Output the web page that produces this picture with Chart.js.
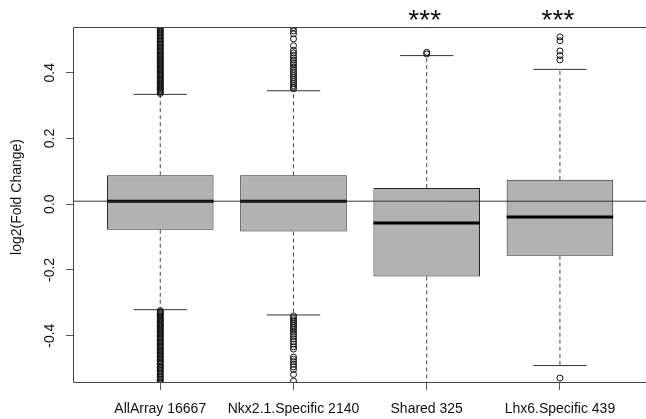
<!DOCTYPE html>
<html>
<head>
<meta charset="utf-8">
<script src="https://cdn.jsdelivr.net/npm/chart.js@4.4.1/dist/chart.umd.min.js"></script>
<style>
  html, body { margin: 0; padding: 0; background: #fff; }
</style>
</head>
<body>
<canvas id="boxChart" width="646" height="419"></canvas>
<script>
// values
const categories = ['AllArray 16667', 'Nkx2.1.Specific 2140', 'Shared 325', 'Lhx6.Specific 439'];
const boxLow = [-0.078, -0.083, -0.220, -0.157];
const boxMedian = [0.009, 0.009, -0.057, -0.039];
const boxHigh = [0.088, 0.088, 0.049, 0.074];
const whiskerLow = [-0.321, -0.337, -0.620, -0.491];
const whiskerHigh = [0.334, 0.345, 0.452, 0.410];
const starLabels = ['', '', '***', '***'];
const refLine = 0.009;
const yTicks = [-0.4, -0.2, 0.0, 0.2, 0.4];

const outliersAllArray = [
  0.337, 0.341, 0.344, 0.348, 0.352, 0.355, 0.359, 0.363, 0.366, 0.370, 0.374, 0.378, 0.381, 0.385,
  0.389, 0.393, 0.396, 0.400, 0.404, 0.408, 0.411, 0.415, 0.419, 0.423, 0.427, 0.431, 0.434, 0.438,
  0.442, 0.446, 0.450, 0.454, 0.458, 0.462, 0.466, 0.470, 0.474, 0.478, 0.483, 0.487, 0.491, 0.495,
  0.499, 0.504, 0.508, 0.512, 0.517, 0.521, 0.526, 0.530, 0.535, 0.539, 0.544, 0.548,
  -0.324, -0.328, -0.331, -0.335, -0.339, -0.342, -0.346, -0.350, -0.353, -0.357, -0.361, -0.365,
  -0.368, -0.372, -0.376, -0.380, -0.384, -0.387, -0.391, -0.395, -0.399, -0.403, -0.407, -0.411,
  -0.415, -0.419, -0.423, -0.427, -0.431, -0.435, -0.439, -0.443, -0.447, -0.451, -0.455, -0.459,
  -0.463, -0.467, -0.471, -0.476, -0.480, -0.484, -0.488, -0.493, -0.497, -0.501, -0.506, -0.510,
  -0.515, -0.519, -0.524, -0.528, -0.533, -0.537, -0.542, -0.546, -0.551
];
const outliersNkx = [
  0.537, 0.527, 0.518, 0.503, 0.482, 0.468, 0.460, 0.452, 0.445, 0.438, 0.430, 0.424, 0.417, 0.410,
  0.403, 0.397, 0.391, 0.385, 0.379, 0.373, 0.367, 0.361, 0.356, 0.351,
  -0.340, -0.346, -0.352, -0.358, -0.364, -0.370, -0.376, -0.382, -0.389, -0.396, -0.403, -0.410,
  -0.418, -0.426, -0.434, -0.441, -0.465, -0.472, -0.479, -0.487, -0.495, -0.503, -0.518, -0.538
];
const outliersShared = [0.546, 0.462, 0.457];
const outliersLhx6 = [0.509, 0.497, 0.466, 0.452, 0.439, -0.529];
const outliers = [outliersAllArray, outliersNkx, outliersShared, outliersLhx6];

const FONT = '"Liberation Sans", Arial, Helvetica, sans-serif';
const BOX_HALF = 0.4, CAP_HALF = 0.2;

// turn [[x1,y1,x2,y2], ...] into one line with gaps between segments
function segments(list) {
    let pts = [];
    list.forEach(s => {
        pts.push({x: s[0], y: s[1]}, {x: s[2], y: s[3]}, {x: s[2], y: null});
    });
    return pts;
}

let medianSegs = categories.map((c, i) => [i + 1 - BOX_HALF, boxMedian[i], i + 1 + BOX_HALF, boxMedian[i]]);
let whiskerSegs = [];
let capSegs = [];
categories.forEach((c, i) => {
    whiskerSegs.push([i + 1, boxHigh[i], i + 1, whiskerHigh[i]]);
    whiskerSegs.push([i + 1, boxLow[i], i + 1, whiskerLow[i]]);
    capSegs.push([i + 1 - CAP_HALF, whiskerHigh[i], i + 1 + CAP_HALF, whiskerHigh[i]]);
    capSegs.push([i + 1 - CAP_HALF, whiskerLow[i], i + 1 + CAP_HALF, whiskerLow[i]]);
});
let outlierPts = [];
outliers.forEach((arr, i) => arr.forEach(v => outlierPts.push({x: i + 1, y: v})));

const lineBase = {type: 'line', pointRadius: 0, spanGaps: false, tension: 0, clip: 0, borderWidth: 1};

/** frame, rotated y labels and significance stars, like base R **/
const rDecor = {
    id: 'rDecor',
    afterDatasetsDraw(chart) {
        const ctx = chart.ctx, a = chart.chartArea;
        ctx.save();
        ctx.strokeStyle = '#444';
        ctx.lineWidth = 1;
        ctx.beginPath();
        ctx.moveTo(chart.width, Math.round(a.top) + 0.5);
        ctx.lineTo(Math.round(a.left) + 0.5, Math.round(a.top) + 0.5);
        ctx.lineTo(Math.round(a.left) + 0.5, Math.round(a.bottom) + 0.5);
        ctx.lineTo(chart.width, Math.round(a.bottom) + 0.5);
        ctx.stroke();
        ctx.restore();
    },
    afterDraw(chart) {
        const ctx = chart.ctx, xs = chart.scales.x, ys = chart.scales.y;
        ctx.save();
        ctx.fillStyle = '#111';
        ctx.font = '14px ' + FONT;
        ctx.textAlign = 'center';
        ctx.textBaseline = 'alphabetic';
        yTicks.forEach(v => {
            ctx.save();
            ctx.translate(53.5, ys.getPixelForValue(v));
            ctx.rotate(-Math.PI / 2);
            ctx.fillText(v.toFixed(1), 0, 0);
            ctx.restore();
        });
        ctx.save();
        ctx.translate(20.5, 197);
        ctx.rotate(-Math.PI / 2);
        ctx.fillText('log2(Fold Change)', 0, 0);
        ctx.restore();
        ctx.font = '28px ' + FONT;
        starLabels.forEach((s, i) => {
            if (s) ctx.fillText(s, xs.getPixelForValue(i + 1) - 2, 29);
        });
        ctx.restore();
    }
};

new Chart(document.getElementById('boxChart'), {
    type: 'bar',
    data: {
        datasets: [
            Object.assign({}, lineBase, {
                data: [{x: 0, y: refLine}, {x: 5, y: refLine}],
                borderColor: '#333', order: 0
            }),
            Object.assign({}, lineBase, {
                data: segments(medianSegs), borderColor: '#000', borderWidth: 3, order: 1
            }),
            {
                type: 'scatter', data: outlierPts, clip: 0, order: 2,
                pointRadius: 3, pointBorderWidth: 1,
                pointBorderColor: '#111', pointBackgroundColor: 'rgba(0,0,0,0)'
            },
            Object.assign({}, lineBase, {
                data: segments(capSegs), borderColor: '#333', order: 3
            }),
            Object.assign({}, lineBase, {
                data: segments(whiskerSegs), borderColor: '#444', borderDash: [4, 3], order: 4
            }),
            {
                type: 'bar', order: 5, clip: 0,
                data: categories.map((c, i) => ({x: i + 1, y: [boxLow[i], boxHigh[i]]})),
                backgroundColor: '#b1b2b1', borderColor: '#222', borderWidth: 1,
                borderSkipped: false, categoryPercentage: 0.8, barPercentage: 1.0
            }
        ]
    },
    options: {
        responsive: false,
        animation: false,
        events: [],
        layout: {autoPadding: false, padding: {top: 27, left: 0, right: 0, bottom: 0}},
        plugins: {legend: {display: false}, tooltip: {enabled: false}},
        scales: {
            x: {
                type: 'linear', min: 0.345, max: 4.646, offset: false,
                afterBuildTicks: s => { s.ticks = categories.map((c, i) => ({value: i + 1})); },
                afterFit: s => { s.height = 37; s.paddingLeft = 0; s.paddingRight = 0; },
                ticks: {
                    callback: v => categories[v - 1], autoSkip: false, maxRotation: 0,
                    font: {family: FONT, size: 14}, color: '#111', padding: 11
                },
                grid: {offset: false, drawOnChartArea: false, drawTicks: true, tickLength: 8, color: '#555'},
                border: {display: false}
            },
            y: {
                min: -0.541, max: 0.539,
                afterBuildTicks: s => { s.ticks = yTicks.map(v => ({value: v})); },
                afterFit: s => { s.width = 73; s.paddingTop = 0; s.paddingBottom = 0; },
                ticks: {display: false},
                grid: {drawOnChartArea: false, drawTicks: true, tickLength: 7, color: '#555'},
                border: {display: false}
            }
        }
    },
    plugins: [rDecor]
});
</script>
</body>
</html>
